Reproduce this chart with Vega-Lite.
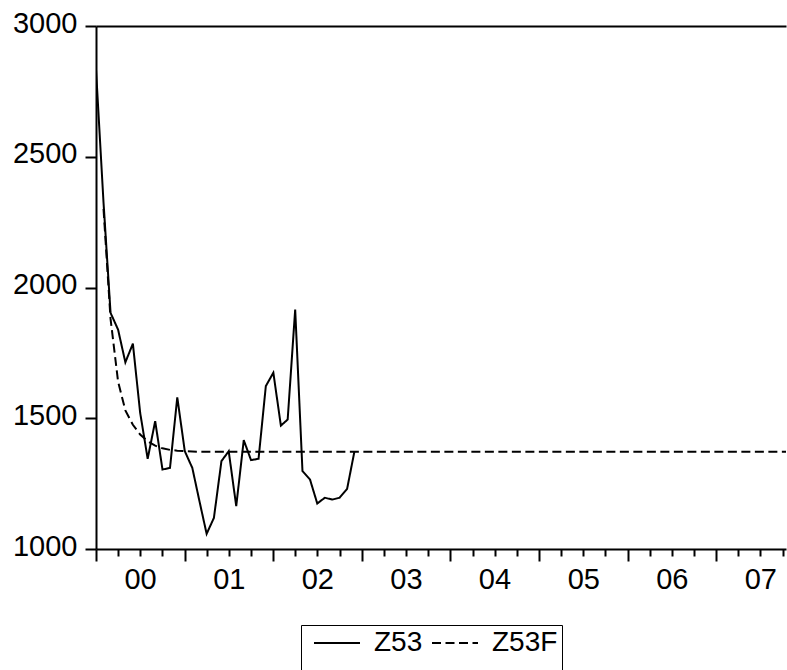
{
  "$schema": "https://vega.github.io/schema/vega-lite/v6.json",
  "width": 690,
  "height": 523,
  "autosize": {"type": "none"},
  "padding": {"left": 96, "top": 26, "right": 1, "bottom": 121},
  "background": "white",
  "config": {
    "font": "Liberation Sans",
    "view": {"stroke": null},
    "axis": {"labelFont": "Liberation Sans", "titleFont": "Liberation Sans", "labelColor": "black", "domainColor": "black", "tickColor": "black", "grid": false}
  },
  "data": {
    "values": [
      {"date": "2000-01-01", "series": "Z53", "value": 2834},
      {"date": "2000-02-01", "series": "Z53", "value": 2325},
      {"date": "2000-03-01", "series": "Z53", "value": 1903},
      {"date": "2000-04-01", "series": "Z53", "value": 1839},
      {"date": "2000-05-01", "series": "Z53", "value": 1714},
      {"date": "2000-06-01", "series": "Z53", "value": 1785},
      {"date": "2000-07-01", "series": "Z53", "value": 1521},
      {"date": "2000-08-01", "series": "Z53", "value": 1345},
      {"date": "2000-09-01", "series": "Z53", "value": 1489},
      {"date": "2000-10-01", "series": "Z53", "value": 1304},
      {"date": "2000-11-01", "series": "Z53", "value": 1310},
      {"date": "2000-12-01", "series": "Z53", "value": 1580},
      {"date": "2001-01-01", "series": "Z53", "value": 1374},
      {"date": "2001-02-01", "series": "Z53", "value": 1310},
      {"date": "2001-03-01", "series": "Z53", "value": 1189},
      {"date": "2001-04-01", "series": "Z53", "value": 1058},
      {"date": "2001-05-01", "series": "Z53", "value": 1119},
      {"date": "2001-06-01", "series": "Z53", "value": 1336},
      {"date": "2001-07-01", "series": "Z53", "value": 1374},
      {"date": "2001-08-01", "series": "Z53", "value": 1164},
      {"date": "2001-09-01", "series": "Z53", "value": 1416},
      {"date": "2001-10-01", "series": "Z53", "value": 1340},
      {"date": "2001-11-01", "series": "Z53", "value": 1345},
      {"date": "2001-12-01", "series": "Z53", "value": 1623},
      {"date": "2002-01-01", "series": "Z53", "value": 1674},
      {"date": "2002-02-01", "series": "Z53", "value": 1472},
      {"date": "2002-03-01", "series": "Z53", "value": 1495},
      {"date": "2002-04-01", "series": "Z53", "value": 1916},
      {"date": "2002-05-01", "series": "Z53", "value": 1298},
      {"date": "2002-06-01", "series": "Z53", "value": 1266},
      {"date": "2002-07-01", "series": "Z53", "value": 1174},
      {"date": "2002-08-01", "series": "Z53", "value": 1196},
      {"date": "2002-09-01", "series": "Z53", "value": 1189},
      {"date": "2002-10-01", "series": "Z53", "value": 1196},
      {"date": "2002-11-01", "series": "Z53", "value": 1230},
      {"date": "2002-12-01", "series": "Z53", "value": 1372},
      {"date": "2000-02-01", "series": "Z53F", "value": 2300},
      {"date": "2000-03-01", "series": "Z53F", "value": 1880},
      {"date": "2000-04-01", "series": "Z53F", "value": 1640},
      {"date": "2000-05-01", "series": "Z53F", "value": 1530},
      {"date": "2000-06-01", "series": "Z53F", "value": 1475},
      {"date": "2000-07-01", "series": "Z53F", "value": 1438},
      {"date": "2000-08-01", "series": "Z53F", "value": 1412},
      {"date": "2000-09-01", "series": "Z53F", "value": 1395},
      {"date": "2000-10-01", "series": "Z53F", "value": 1385},
      {"date": "2000-11-01", "series": "Z53F", "value": 1379},
      {"date": "2000-12-01", "series": "Z53F", "value": 1376},
      {"date": "2001-01-01", "series": "Z53F", "value": 1374},
      {"date": "2001-02-01", "series": "Z53F", "value": 1373},
      {"date": "2001-03-01", "series": "Z53F", "value": 1372},
      {"date": "2001-04-01", "series": "Z53F", "value": 1372},
      {"date": "2001-05-01", "series": "Z53F", "value": 1372},
      {"date": "2001-06-01", "series": "Z53F", "value": 1372},
      {"date": "2001-07-01", "series": "Z53F", "value": 1372},
      {"date": "2001-08-01", "series": "Z53F", "value": 1372},
      {"date": "2001-09-01", "series": "Z53F", "value": 1372},
      {"date": "2001-10-01", "series": "Z53F", "value": 1372},
      {"date": "2001-11-01", "series": "Z53F", "value": 1372},
      {"date": "2001-12-01", "series": "Z53F", "value": 1372},
      {"date": "2002-01-01", "series": "Z53F", "value": 1372},
      {"date": "2002-02-01", "series": "Z53F", "value": 1372},
      {"date": "2002-03-01", "series": "Z53F", "value": 1372},
      {"date": "2002-04-01", "series": "Z53F", "value": 1372},
      {"date": "2002-05-01", "series": "Z53F", "value": 1372},
      {"date": "2002-06-01", "series": "Z53F", "value": 1372},
      {"date": "2002-07-01", "series": "Z53F", "value": 1372},
      {"date": "2002-08-01", "series": "Z53F", "value": 1372},
      {"date": "2002-09-01", "series": "Z53F", "value": 1372},
      {"date": "2002-10-01", "series": "Z53F", "value": 1372},
      {"date": "2002-11-01", "series": "Z53F", "value": 1372},
      {"date": "2002-12-01", "series": "Z53F", "value": 1372},
      {"date": "2003-01-01", "series": "Z53F", "value": 1372},
      {"date": "2003-02-01", "series": "Z53F", "value": 1372},
      {"date": "2003-03-01", "series": "Z53F", "value": 1372},
      {"date": "2003-04-01", "series": "Z53F", "value": 1372},
      {"date": "2003-05-01", "series": "Z53F", "value": 1372},
      {"date": "2003-06-01", "series": "Z53F", "value": 1372},
      {"date": "2003-07-01", "series": "Z53F", "value": 1372},
      {"date": "2003-08-01", "series": "Z53F", "value": 1372},
      {"date": "2003-09-01", "series": "Z53F", "value": 1372},
      {"date": "2003-10-01", "series": "Z53F", "value": 1372},
      {"date": "2003-11-01", "series": "Z53F", "value": 1372},
      {"date": "2003-12-01", "series": "Z53F", "value": 1372},
      {"date": "2004-01-01", "series": "Z53F", "value": 1372},
      {"date": "2004-02-01", "series": "Z53F", "value": 1372},
      {"date": "2004-03-01", "series": "Z53F", "value": 1372},
      {"date": "2004-04-01", "series": "Z53F", "value": 1372},
      {"date": "2004-05-01", "series": "Z53F", "value": 1372},
      {"date": "2004-06-01", "series": "Z53F", "value": 1372},
      {"date": "2004-07-01", "series": "Z53F", "value": 1372},
      {"date": "2004-08-01", "series": "Z53F", "value": 1372},
      {"date": "2004-09-01", "series": "Z53F", "value": 1372},
      {"date": "2004-10-01", "series": "Z53F", "value": 1372},
      {"date": "2004-11-01", "series": "Z53F", "value": 1372},
      {"date": "2004-12-01", "series": "Z53F", "value": 1372},
      {"date": "2005-01-01", "series": "Z53F", "value": 1372},
      {"date": "2005-02-01", "series": "Z53F", "value": 1372},
      {"date": "2005-03-01", "series": "Z53F", "value": 1372},
      {"date": "2005-04-01", "series": "Z53F", "value": 1372},
      {"date": "2005-05-01", "series": "Z53F", "value": 1372},
      {"date": "2005-06-01", "series": "Z53F", "value": 1372},
      {"date": "2005-07-01", "series": "Z53F", "value": 1372},
      {"date": "2005-08-01", "series": "Z53F", "value": 1372},
      {"date": "2005-09-01", "series": "Z53F", "value": 1372},
      {"date": "2005-10-01", "series": "Z53F", "value": 1372},
      {"date": "2005-11-01", "series": "Z53F", "value": 1372},
      {"date": "2005-12-01", "series": "Z53F", "value": 1372},
      {"date": "2006-01-01", "series": "Z53F", "value": 1372},
      {"date": "2006-02-01", "series": "Z53F", "value": 1372},
      {"date": "2006-03-01", "series": "Z53F", "value": 1372},
      {"date": "2006-04-01", "series": "Z53F", "value": 1372},
      {"date": "2006-05-01", "series": "Z53F", "value": 1372},
      {"date": "2006-06-01", "series": "Z53F", "value": 1372},
      {"date": "2006-07-01", "series": "Z53F", "value": 1372},
      {"date": "2006-08-01", "series": "Z53F", "value": 1372},
      {"date": "2006-09-01", "series": "Z53F", "value": 1372},
      {"date": "2006-10-01", "series": "Z53F", "value": 1372},
      {"date": "2006-11-01", "series": "Z53F", "value": 1372},
      {"date": "2006-12-01", "series": "Z53F", "value": 1372},
      {"date": "2007-01-01", "series": "Z53F", "value": 1372},
      {"date": "2007-02-01", "series": "Z53F", "value": 1372},
      {"date": "2007-03-01", "series": "Z53F", "value": 1372},
      {"date": "2007-04-01", "series": "Z53F", "value": 1372},
      {"date": "2007-05-01", "series": "Z53F", "value": 1372},
      {"date": "2007-06-01", "series": "Z53F", "value": 1372},
      {"date": "2007-07-01", "series": "Z53F", "value": 1372},
      {"date": "2007-08-01", "series": "Z53F", "value": 1372},
      {"date": "2007-09-01", "series": "Z53F", "value": 1372},
      {"date": "2007-10-01", "series": "Z53F", "value": 1372},
      {"date": "2007-11-01", "series": "Z53F", "value": 1372},
      {"date": "2007-12-01", "series": "Z53F", "value": 1372}
    ],
    "format": {"parse": {"date": "utc:'%Y-%m-%d'"}}
  },
  "encoding": {
    "y": {
      "field": "value",
      "type": "quantitative",
      "scale": {"domain": [1000, 3000], "nice": false, "zero": false},
      "axis": {
        "orient": "left",
        "values": [1000, 1500, 2000, 2500, 3000],
        "format": "d",
        "title": null,
        "tickSize": 11,
        "tickWidth": 2,
        "domainWidth": 2,
        "labelFontSize": 29,
        "labelPadding": 8,
        "labelOffset": -3,
        "labelOverlap": false,
        "labelFlush": false
      }
    },
    "strokeDash": {
      "field": "series",
      "type": "nominal",
      "scale": {"domain": ["Z53", "Z53F"], "range": [[1, 0], [9, 4.5]]},
      "legend": {
        "orient": "none",
        "legendX": 205,
        "legendY": 599,
        "direction": "horizontal",
        "title": "\u00a0",
        "titleOrient": "bottom",
        "titleFontSize": 14,
        "titlePadding": 4,
        "labelExpr": "datum.label === 'Z53F' ? 'Z53F   ' : datum.label",
        "labelFont": "Liberation Sans",
        "labelFontSize": 28,
        "labelColor": "black",
        "labelOffset": 13,
        "symbolOffset": 8,
        "columnPadding": -5,
        "symbolType": "stroke",
        "symbolSize": 2116,
        "symbolStrokeColor": "black",
        "symbolStrokeWidth": 2,
        "padding": 4,
        "strokeColor": "black",
        "fillColor": "white",
        "encode": {
          "symbols": {"update": {"y": {"value": 14}}},
          "labels": {"update": {"y": {"value": 14}}}
        }
      }
    }
  },
  "layer": [
    {
      "transform": [{"filter": "datum.series === 'Z53'"}],
      "mark": {"type": "line", "color": "black", "strokeWidth": 2, "clip": true},
      "encoding": {
        "x": {
          "field": "date",
          "type": "temporal",
          "scale": {"type": "utc", "domain": [{"year": 2000, "month": 1, "date": 1, "utc": true}, {"year": 2007, "month": 10, "date": 15, "utc": true}]},
          "axis": {
            "orient": "bottom",
            "title": null,
            "tickCount": {"interval": "month", "step": 3},
            "tickSize": {"condition": {"test": "utcmonth(datum.value) === 0", "value": 12}, "value": 7},
            "tickWidth": 2,
            "domainWidth": 2,
            "labelExpr": "utcmonth(datum.value) === 0 ? utcFormat(datum.value, '%y') : ''",
            "labelOffset": 44,
            "labelPadding": 4,
            "labelFontSize": 29,
            "labelAlign": "center",
            "labelOverlap": false,
            "labelFlush": false,
            "labelBound": false
          }
        }
      }
    },
    {
      "transform": [{"filter": "datum.series === 'Z53F'"}],
      "mark": {"type": "line", "color": "black", "strokeWidth": 2, "clip": true},
      "encoding": {
        "x": {
          "field": "date",
          "type": "temporal",
          "scale": {"type": "utc", "domain": [{"year": 2000, "month": 1, "date": 1, "utc": true}, {"year": 2007, "month": 10, "date": 15, "utc": true}]},
          "axis": {
            "orient": "top",
            "title": null,
            "ticks": false,
            "labels": false,
            "domainWidth": 2
          }
        }
      }
    }
  ],
  "resolve": {"axis": {"x": "independent"}}
}
